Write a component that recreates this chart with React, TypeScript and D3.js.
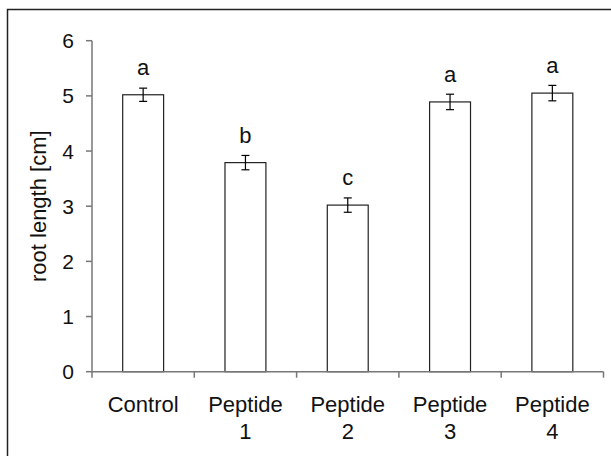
import React from 'react';
import * as d3 from 'd3';

// data
const categories = ['Control', 'Peptide 1', 'Peptide 2', 'Peptide 3', 'Peptide 4'];
const means = [5.02, 3.79, 3.02, 4.89, 5.05];
const errors = [0.12, 0.13, 0.13, 0.14, 0.14];
const letters = ['a', 'b', 'c', 'a', 'a'];
const yTicks = [0, 1, 2, 3, 4, 5, 6];

const W = 611;
const H = 456;
const margin = { top: 40.7, right: 7.5, bottom: 84.3, left: 92 };
const font = '"Liberation Sans", Arial, sans-serif';

const App = () => {
  const innerW = W - margin.left - margin.right;
  const innerH = H - margin.top - margin.bottom;

  const x = d3.scaleBand().domain(categories).range([0, innerW]).paddingInner(0.6).paddingOuter(0.3);
  const y = d3.scaleLinear().domain([0, 6]).range([innerH, 0]);
  const step = x.step();
  // category boundaries for the x ticks
  const bounds = d3.range(categories.length + 1).map(i => i * step);

  return (
    <svg width={W} height={H} style={{ position: 'absolute', left: 0, top: 0 }} fontFamily={font}>
      <rect x={0} y={0} width={W} height={H} fill="#fff" />
      {/* outer frame */}
      <rect x={7.5} y={9.5} width={W + 20} height={H + 20} fill="none" stroke="#222" strokeWidth={1.5} />
      <g transform={`translate(${margin.left},${margin.top})`}>
        {/* bars */}
        {categories.map((c, i) => (
          <rect key={c} x={x(c)} y={y(means[i])} width={x.bandwidth()} height={innerH - y(means[i])}
            fill="#fff" stroke="#222" strokeWidth={1.2} />
        ))}
        {/* error bars */}
        {categories.map((c, i) => {
          const cx = (x(c) as number) + x.bandwidth() / 2;
          const y1 = y(means[i] + errors[i]);
          const y2 = y(means[i] - errors[i]);
          return (
            <g key={c + 'e'} stroke="#000" strokeWidth={1.2}>
              <line x1={cx} x2={cx} y1={y1} y2={y2} />
              <line x1={cx - 4} x2={cx + 4} y1={y1} y2={y1} />
              <line x1={cx - 4} x2={cx + 4} y1={y2} y2={y2} />
            </g>
          );
        })}
        {/* significance letters */}
        {categories.map((c, i) => (
          <text key={c + 'l'} x={(x(c) as number) + x.bandwidth() / 2} y={y(means[i]) - 20}
            textAnchor="middle" fontSize={22} fill="#111">{letters[i]}</text>
        ))}
        {/* y axis */}
        <line x1={0} x2={0} y1={y(6)} y2={innerH} stroke="#777" strokeWidth={1.5} />
        {yTicks.map(t => (
          <g key={t} transform={`translate(0,${y(t)})`}>
            <line x1={-6} x2={0} stroke="#777" strokeWidth={1.5} />
            <text x={-18} dy="0.36em" textAnchor="end" fontSize={21} fill="#111">{t}</text>
          </g>
        ))}
        {/* x axis */}
        <line x1={0} x2={innerW} y1={innerH} y2={innerH} stroke="#777" strokeWidth={1.5} />
        {bounds.map((b, i) => (
          <line key={i} x1={b} x2={b} y1={innerH} y2={innerH + 6} stroke="#777" strokeWidth={1.5} />
        ))}
        {categories.map(c => {
          const parts = c.split(' ');
          const cx = (x(c) as number) + x.bandwidth() / 2;
          return (
            <text key={c + 'x'} x={cx} y={innerH + 40.5} textAnchor="middle" fontSize={22} fill="#111">
              {parts.map((p, j) => (
                <tspan key={j} x={cx} dy={j === 0 ? 0 : 27}>{p}</tspan>
              ))}
            </text>
          );
        })}
        {/* y title */}
        <text transform={`translate(-46,${innerH / 2}) rotate(-90)`} textAnchor="middle" fontSize={22} fill="#111">
          root length [cm]
        </text>
      </g>
    </svg>
  );
};

export default App;
